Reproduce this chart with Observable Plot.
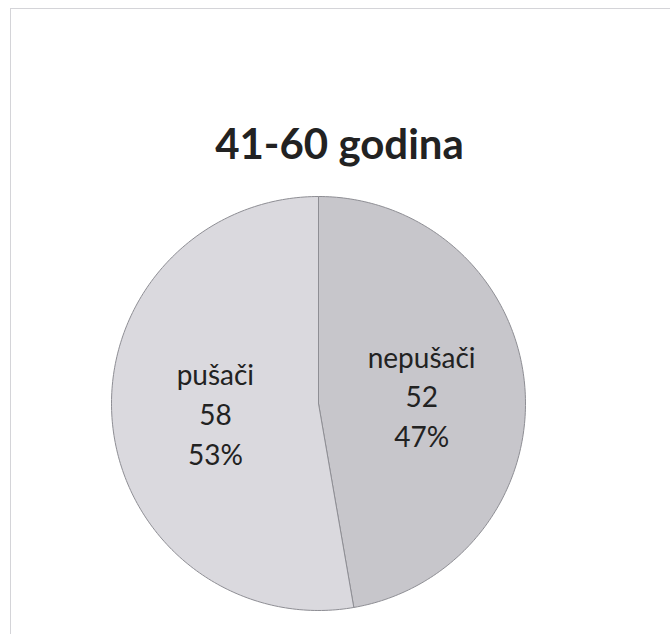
<!DOCTYPE html>
<html>
<head>
<meta charset="utf-8">
<script src="https://cdn.jsdelivr.net/npm/d3@7"></script>
<script src="https://cdn.jsdelivr.net/npm/@observablehq/plot@0.6"></script>
<style>
  html, body { margin: 0; padding: 0; background: #fff; }
  #wrap { position: relative; width: 670px; height: 634px; overflow: hidden; }
  #border { position: absolute; left: 10px; top: 8px; width: 700px; height: 700px;
            border-left: 1px solid #d4d4d8; border-top: 1px solid #d4d4d8; }
  #chart { position: absolute; left: 0; top: 0; }
</style>
</head>
<body>
<div id="wrap"><div id="border"></div><div id="chart"></div></div>
<script>
const title = "41-60 godina";
const categories = ["nepušači", "pušači"];
const values = [52, 58];
const colors = ["#c7c6cb", "#dad9de"];

const total = d3.sum(values);
const pie = d3.pie().sort(null).value(d => d)(values);

// build slice outlines in unit-circle data space from d3.pie angles
const slices = pie.map((p, i) => {
  const n = Math.max(2, Math.ceil((p.endAngle - p.startAngle) / (Math.PI / 180)));
  const pts = [{x: 0, y: 0, k: categories[i]}];
  for (let j = 0; j <= n; j++) {
    const a = p.startAngle + (p.endAngle - p.startAngle) * j / n;
    pts.push({x: Math.sin(a), y: Math.cos(a), k: categories[i]});
  }
  pts.push({x: 0, y: 0, k: categories[i]});
  return pts;
});

const labels = pie.map((p, i) => {
  const a = (p.startAngle + p.endAngle) / 2;
  return {
    x: 0.5 * Math.sin(a),
    y: 0.5 * Math.cos(a),
    text: `${categories[i]}\n${values[i]}\n${Math.round(values[i] / total * 100)}%`
  };
});

const chart = Plot.plot({
  width: 670,
  height: 634,
  margin: 0,
  style: {background: "transparent", overflow: "visible"},
  x: {domain: [-1, 1], range: [111, 525], axis: null},
  y: {domain: [-1, 1], range: [610, 196], axis: null},
  marks: [
    ...slices.map((s, i) => Plot.line(s, {
      x: "x", y: "y", fill: colors[i], stroke: "#8e8e94", strokeWidth: 1, curve: "linear"
    })),
    Plot.text(labels, {
      x: "x", y: "y", text: "text",
      fontSize: 28, lineHeight: 1.42, fill: "#222",
      fontFamily: "Lato", textAnchor: "middle", lineAnchor: "middle"
    }),
    Plot.text([title], {
      frameAnchor: "top", text: d => d, dx: 4, dy: 158, lineAnchor: "bottom",
      fontSize: 42, fontWeight: "bold", fontFamily: "Lato", fill: "#222"
    })
  ]
});
document.getElementById("chart").appendChild(chart);
</script>
</body>
</html>
